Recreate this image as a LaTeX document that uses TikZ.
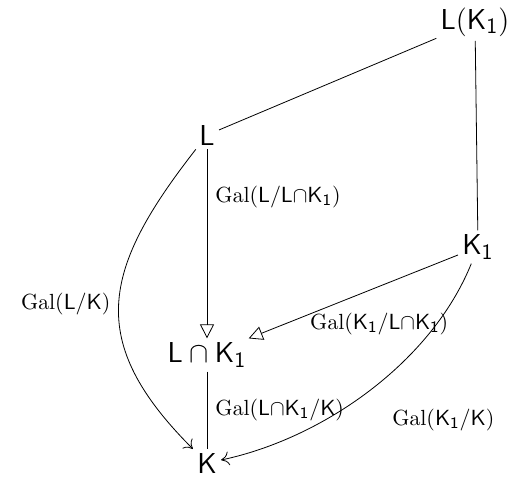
\documentclass[tikz,border=0pt]{standalone}
\usepackage{amsmath,amssymb}
\usepackage{tikz}
\usetikzlibrary{arrows.meta}

\newcommand{\gal}[1]{\mathrm{Gal}(#1)}

\begin{document}
\begin{tikzpicture}[x=0.5pt, y=-0.5pt,
    field/.style={font=\fontsize{15}{17}\selectfont, inner sep=2pt},
    lbl/.style={font=\fontsize{11}{13}\selectfont, inner sep=4pt},
    sub/.style={-{Triangle[open,length=7pt,width=7pt]}},
    quo/.style={-{To[length=4pt,width=7pt]}}]
    \useasboundingbox (0,0) rectangle (513,479);
    \node[field] (LK1) at (475, 22) {$\mathsf{L}(\mathsf{K}_{\mathsf{1}})$};
    \node[field] (L)   at (207,135) {$\mathsf{L}$};
    \node[field] (K1)  at (478,247) {$\mathsf{K}_{\mathsf{1}}$};
    \node[field] (LcK) at (207,355) {$\mathsf{L}\cap\mathsf{K}_{\mathsf{1}}$};
    \node[field] (K)   at (207,463) {$\mathsf{K}$};
    \draw (LK1) -- (L);
    \draw (LK1) -- (K1);
    \draw[sub] (L) to node[lbl,right,pos=0.25] {$\gal{\mathsf{L}/\mathsf{L}{\cap}\mathsf{K}_{\mathsf{1}}}$} (LcK);
    \draw[sub] (K1) to node[lbl,below right,pos=0.45,xshift=-31pt,yshift=-6pt] {$\gal{\mathsf{K}_{\mathsf{1}}/\mathsf{L}{\cap}\mathsf{K}_{\mathsf{1}}}$} (LcK);
    \draw (LcK) to node[lbl,right] {$\gal{\mathsf{L}{\cap}\mathsf{K}_{\mathsf{1}}/\mathsf{K}}$} (K);
    \draw[quo] (L) to[out=-128,in=135,looseness=1.3] node[lbl,left,pos=0.5] {$\gal{\mathsf{L}/\mathsf{K}}$} (K);
    \draw[quo] (K1) to[out=-112,in=12,looseness=0.85] node[lbl,below right,pos=0.4,xshift=-6pt,yshift=-16pt] {$\gal{\mathsf{K}_{\mathsf{1}}/\mathsf{K}}$} (K);
\end{tikzpicture}
\end{document}
